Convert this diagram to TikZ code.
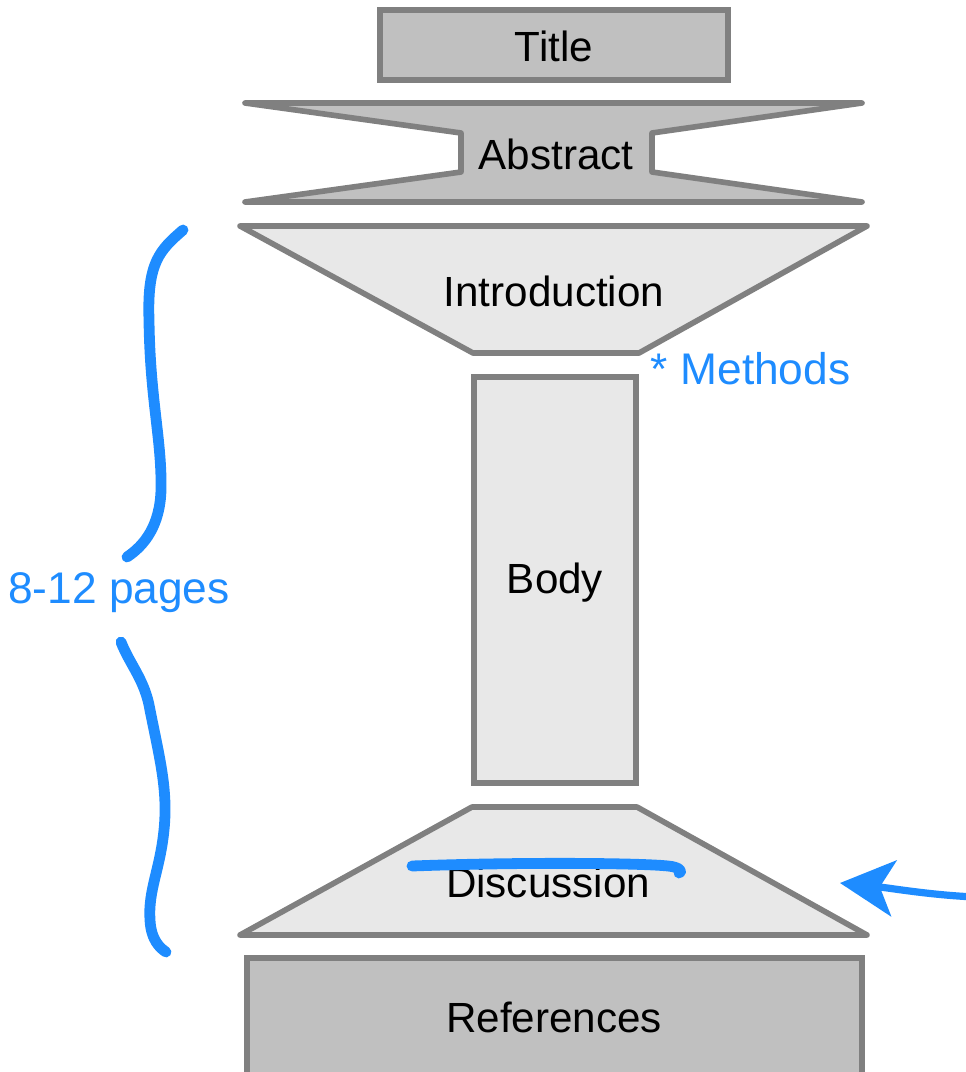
\documentclass[tikz,border=0pt]{standalone}
\usepackage{fontspec}
\setmainfont{Liberation Sans}
\usetikzlibrary{arrows.meta}
\definecolor{boxline}{RGB}{128,128,128}
\definecolor{darkfill}{RGB}{192,192,192}
\definecolor{lightfill}{RGB}{232,232,232}
\definecolor{penblue}{RGB}{30,140,255}
\tikzset{
    part/.style = {draw=boxline, line width=4pt},
    heavy/.style = {part, fill=darkfill},
    light/.style = {part, fill=lightfill},
    label/.style = {font=\fontsize{30}{36}\selectfont, text=black},
    note/.style = {font=\fontsize{31.5}{36}\selectfont, text=penblue},
    pen/.style = {draw=penblue, line width=0.27cm, line cap=round, line join=round}
}

\begin{document}
\begin{tikzpicture}[x=0.025cm, y=-0.025cm]
        \useasboundingbox (0, 0) rectangle (966, 1072);
        % draw the gray parts of the paper, top to bottom
        \draw[heavy] (380, 10) rectangle (728, 80);
        \draw[heavy, line join=round] (245, 103) -- (862, 103) -- (652, 133) -- (652, 172)
            -- (862, 202) -- (245, 202) -- (461, 172) -- (461, 133) -- cycle;
        \draw[light, line join=round] (240, 226) -- (867, 226) -- (639, 353) -- (473, 353) -- cycle;
        \draw[light] (474, 377) rectangle (636, 783);
        \draw[light, line join=round] (472, 807) -- (637, 807) -- (867, 935) -- (240, 935) -- cycle;
        \draw[heavy] (247, 958) rectangle (862, 1080);
        % label the parts
        \node[label] (title) at (554, 46) {Title};
        \node[label] (abstract) at (556, 154) {Abstract};
        \node[label] (intro) at (554, 291) {Introduction};
        \node[label] (body) at (555, 583) {Body};
        \node[label] (discussion) at (548, 882) {Discussion};
        \node[label] (refs) at (554, 1017) {References};
        % hand written notes in blue
        \node[note, anchor=west] (methods) at (646, 369) {* Methods};
        \node[note] (pages) at (119, 593) {8-12 pages};
        % brace round the main part, split by the page count
        \draw[pen] (183, 230) .. controls (160, 250) and (147, 262) .. (149, 320)
            .. controls (150, 400) and (162, 440) .. (161, 490)
            .. controls (160, 525) and (145, 545) .. (127, 557);
        \draw[pen] (121, 642) .. controls (130, 665) and (145, 680) .. (150, 710)
            .. controls (160, 760) and (168, 790) .. (164, 830)
            .. controls (160, 870) and (148, 890) .. (150, 920)
            .. controls (151, 940) and (160, 948) .. (166, 952);
        % cross out the discussion
        \draw[pen] (412, 866) .. controls (520, 862) and (640, 863) .. (668, 866)
            .. controls (680, 867) and (683, 872) .. (679, 873);
        % arrow pointing at the discussion
        \coordinate (arrowtail) at (975, 897);
        \coordinate (arrowtip) at (840, 883);
        \draw[penblue, line width=0.18cm, -{Stealth[length=1.35cm, width=1.4cm, inset=0.35cm]}]
            (arrowtail) .. controls (930, 895) and (890, 888) .. (arrowtip);
    \end{tikzpicture}
\end{document}
